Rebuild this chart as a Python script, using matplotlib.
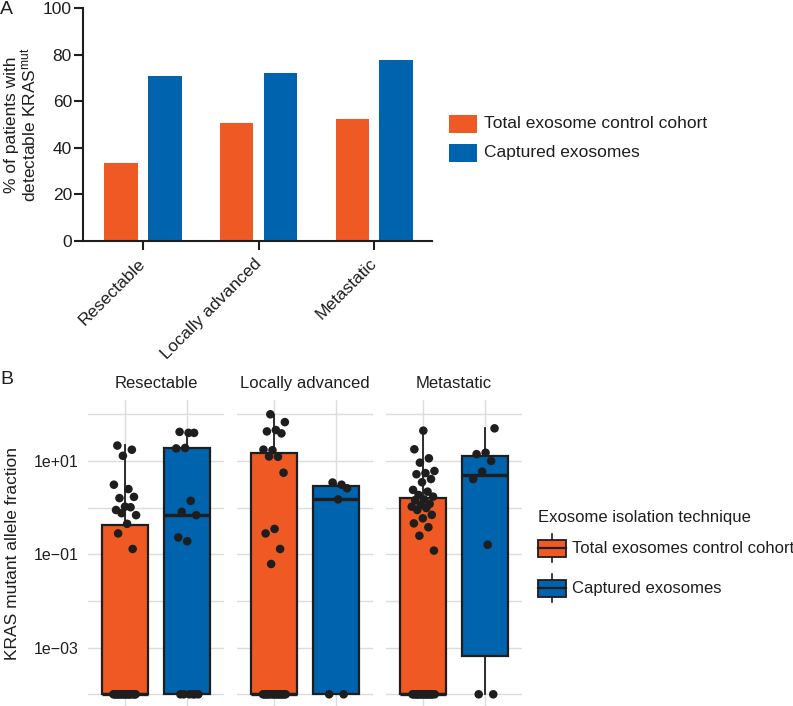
#!/usr/bin/env python3
"""
Exosome KRAS detection figure.
Panel A: % of patients with detectable KRAS mutation per stage (grouped bars).
Panel B: KRAS mutant allele fraction per stage, box + jittered points on log scale.
"""

import numpy as np
import matplotlib
matplotlib.use('Agg')
import matplotlib.pyplot as plt
from matplotlib.patches import Rectangle

plt.rcParams['font.family'] = ['Liberation Sans', 'DejaVu Sans']
plt.rcParams['mathtext.fontset'] = 'custom'
plt.rcParams['mathtext.rm'] = 'Liberation Sans'
plt.rcParams['mathtext.it'] = 'Liberation Sans:italic'
plt.rcParams['mathtext.bf'] = 'Liberation Sans:bold'

# ---- data -----------------------------------------------------------------
stages = ["Resectable", "Locally advanced", "Metastatic"]

# Panel A: % of patients with detectable KRAS mut
pct_total = [33.3, 50.6, 52.5]
pct_captured = [71.0, 72.0, 77.5]
bar_labels = ["Total exosome control cohort", "Captured exosomes"]

# Panel B: detected allele fractions (non-zero) and count of undetected samples
floor_value = 1e-4
res_total = [21.4, 17.4, 12.9, 3.1, 2.5, 1.6, 1.7, 1.05, 0.89, 1.02, 0.76, 0.69,
             0.45, 0.28, 0.13]
res_captured = [40, 42, 40, 19, 18.6, 1.4, 0.81, 0.69, 0.19, 0.23]
la_total = [100, 68, 46, 43, 39, 17, 17.5, 12.3, 12.5, 5.6, 0.35, 0.28, 0.13, 0.062]
la_captured = [3.1, 3.45, 2.6, 1.5]
met_total = [44.6, 17.8, 11.4, 9.2, 6.1, 5.5, 5.2, 4.1, 3.5, 2.4, 2.2, 1.87, 1.72,
             1.5, 1.45, 1.2, 1.14, 1.05, 0.98, 0.89, 0.7, 0.59, 0.46, 0.38, 0.25, 0.12]
met_captured = [50, 15, 14, 10, 5.9, 4.1, 0.16]
n_undetected = [[20, 6], [20, 2], [20, 2]]

# box statistics (log-scale boxes)
box_q1 = [[1e-4, 1e-4], [1e-4, 1e-4], [1e-4, 6.6e-4]]
box_median = [[1e-4, 0.70], [1e-4, 1.55], [1e-4, 5.0]]
box_q3 = [[0.43, 19.3], [14.6, 2.95], [1.64, 13.0]]
box_whislo = [[1e-4, 1e-4], [1e-4, 1e-4], [1e-4, 1e-4]]
box_whishi = [[22, 40], [97, 3.4], [45, 50]]
technique_labels = ["Total exosomes control cohort", "Captured exosomes"]

detected = [[res_total, res_captured], [la_total, la_captured],
            [met_total, met_captured]]

# ---- style ----------------------------------------------------------------
ORANGE = '#EF5A24'
BLUE = '#0063AE'
DARK = '#1e1e1e'
GRID = '#DCDCDC'
W, H = 793, 706


def px_axes(fig, left, top, right, bottom):
    """Add axes placed by pixel edges (y measured from top)."""
    return fig.add_axes([left / W, (H - bottom) / H, (right - left) / W,
                         (bottom - top) / H])


def jitter(n, width=0.19, phase=0.3):
    """Deterministic horizontal spread (golden-ratio sequence)."""
    return (np.mod(np.arange(n) * 0.618034 + phase, 1.0) - 0.5) * 2 * width


fig = plt.figure(figsize=(W / 100, H / 100), dpi=100)

# ---- panel A ----------------------------------------------------------------
axA = px_axes(fig, 83, 8, 432, 241)
x = np.arange(len(stages))
axA.bar(x - 0.19, pct_total, width=0.29, color=ORANGE)
axA.bar(x + 0.19, pct_captured, width=0.29, color=BLUE)
axA.set_xlim(-0.52, 2.5)
axA.set_ylim(0, 100)
axA.set_yticks([0, 20, 40, 60, 80, 100])
axA.set_xticks(x)
axA.set_xticklabels(stages, rotation=45, ha='right', va='center',
                    rotation_mode='anchor')
for s in ['top', 'right']:
    axA.spines[s].set_visible(False)
for s in ['left', 'bottom']:
    axA.spines[s].set_linewidth(1.5)
    axA.spines[s].set_color(DARK)
axA.tick_params(axis='y', length=6.5, width=1.5, pad=1.5, labelsize=12.5,
                colors=DARK)
axA.tick_params(axis='x', length=6.5, width=1.5, pad=8, labelsize=12.5,
                colors=DARK)
axA.set_ylabel('% of patients with\ndetectable KRAS$^{\\mathrm{mut}}$',
               fontsize=12.5, linespacing=1.0, color=DARK, labelpad=3)

# ---- panel B ----------------------------------------------------------------
lefts = [88, 237, 386]
axesB = []
for i, stage in enumerate(stages):
    ax = px_axes(fig, lefts[i], 400.3, lefts[i] + 136, 708.3)
    axesB.append(ax)
    ax.set_yscale('log')
    ax.set_ylim(10 ** -4.3, 10 ** 2.3)
    ax.set_xlim(0.4, 2.6)

    stats = []
    for j in range(2):
        stats.append(dict(med=box_median[i][j], q1=box_q1[i][j], q3=box_q3[i][j],
                          whislo=box_whislo[i][j], whishi=box_whishi[i][j]))
    bp = ax.bxp(stats, positions=[1, 2], widths=0.75, patch_artist=True,
                showfliers=False, showcaps=False,
                boxprops=dict(edgecolor=DARK, linewidth=1.6),
                medianprops=dict(color=DARK, linewidth=2.4),
                whiskerprops=dict(color=DARK, linewidth=1.3))
    for patch, col in zip(bp['boxes'], [ORANGE, BLUE]):
        patch.set_facecolor(col)

    for j in range(2):
        vals = list(detected[i][j]) + [floor_value] * n_undetected[i][j]
        xs = (j + 1) + jitter(len(vals), phase=0.17 * (i + 1) + 0.4 * j)
        ax.scatter(xs, vals, s=38, color=DARK, edgecolors='none', zorder=4)

    ax.set_xticks([1, 2])
    ax.set_xticklabels([])
    ax.set_yticks([1e-3, 1e-1, 1e1])
    ax.set_yticks([1e-4, 1e-2, 1e0, 1e2], minor=True)
    ax.yaxis.set_minor_formatter(matplotlib.ticker.NullFormatter())
    if i == 0:
        ax.set_yticklabels(['1e\u221203', '1e\u221201', '1e+01'])
    else:
        ax.set_yticklabels([])
    ax.tick_params(which='both', length=0, labelsize=11.5, colors=DARK, pad=7)
    ax.grid(True, which='both', color=GRID, linewidth=1.0)
    ax.set_axisbelow(True)
    for s in ax.spines.values():
        s.set_visible(False)
    ax.set_title(stage, fontsize=12, color=DARK, pad=9)

# ---- overlay: panel letters, axis label, legends ----------------------------
ov = fig.add_axes([0, 0, 1, 1])
ov.set_xlim(0, W)
ov.set_ylim(H, 0)
ov.axis('off')

ov.text(0, 9, 'A', fontsize=14, color=DARK, va='center', ha='left')
ov.text(0, 380, 'B', fontsize=14, color=DARK, va='center', ha='left')
ov.text(13, 554, 'KRAS mutant allele fraction', rotation=90, fontsize=12.5,
        color=DARK, ha='center', va='center')

# panel A legend
for k, (col, lab) in enumerate(zip([ORANGE, BLUE], bar_labels)):
    y0 = 115 + k * 29
    ov.add_patch(Rectangle((449, y0), 28, 18, facecolor=col, edgecolor='none'))
    ov.text(484, y0 + 9, lab, fontsize=12.5, color=DARK, va='center', ha='left')

# panel B legend
ov.text(538, 517.5, 'Exosome isolation technique', fontsize=12, color=DARK,
        va='center', ha='left')
for k, (col, lab) in enumerate(zip([ORANGE, BLUE], technique_labels)):
    yc = 548.3 + k * 40
    ov.plot([552, 552], [yc - 14, yc + 14], color=DARK, lw=1.2)
    ov.add_patch(Rectangle((538, yc - 8.3), 28, 16.6, facecolor=col,
                           edgecolor=DARK, lw=1.3, zorder=3))
    ov.plot([538, 566], [yc, yc], color=DARK, lw=1.6, zorder=4)
    ov.text(571.5, yc, lab, fontsize=12, color=DARK, va='center', ha='left')

plt.savefig('out.png', dpi=100, facecolor='white')
plt.close()
